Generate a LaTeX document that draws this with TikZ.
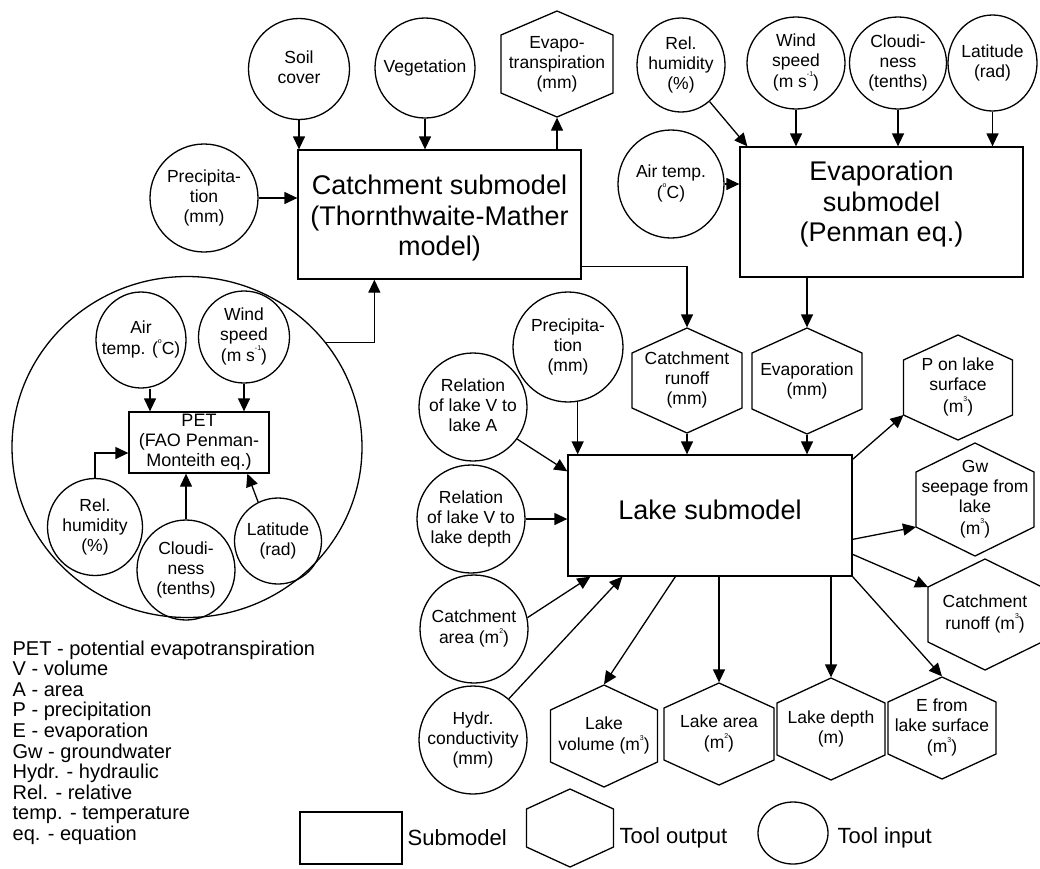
\documentclass[tikz,border=0pt]{standalone}
\usepackage{fontspec}
\setmainfont{Liberation Sans}
\usetikzlibrary{arrows.meta,shapes.geometric,calc}
\newcommand\spr[1]{\raisebox{0.62em}{\fontsize{7}{7}\selectfont #1}}
\newcommand\ctxt[1]{\makebox[0pt]{\begin{tabular}{@{}c@{}}#1\end{tabular}}}
\newcommand\hexn[7]{%
  \draw[shp] ({#2},{#3-#5}) -- ({#2-#4},{#3-#5+#6}) -- ({#2-#4},{#3+#5-#6}) -- ({#2},{#3+#5}) -- ({#2+#4},{#3+#5-#6}) -- ({#2+#4},{#3-#5+#6}) -- cycle;
  \node[outp, minimum width={2*#4}, minimum height={2*#5}] (#1) at (#2,#3) {\ctxt{#7}};
  \coordinate (#1-ul) at ({#2-#4},{#3-#5+#6});
  \coordinate (#1-ll) at ({#2-#4},{#3+#5-#6});
}
\begin{document}
\begin{tikzpicture}[x=1pt,y=-1pt,line width=1.3pt,
  shp/.style={line width=1.3pt, line join=miter},
  inp/.style={ellipse, draw, inner sep=0pt, font=\fontsize{17.5}{20}\selectfont},
  outp/.style={rectangle, draw=none, inner sep=0pt, font=\fontsize{17.5}{20}\selectfont},
  sub/.style={rectangle, draw, inner sep=0pt},
  subt/.style={inner sep=0pt, font=\fontsize{27}{30.5}\selectfont},
  pet/.style={rectangle, draw, inner sep=0pt, font=\fontsize{18}{20}\selectfont},
  arr/.style={-{Triangle[length=13pt,width=12pt]}},
  abbr/.style={anchor=base west, inner sep=0pt, font=\fontsize{20}{20}\selectfont},
  leg/.style={anchor=west, inner sep=0pt, font=\fontsize{22}{22}\selectfont}]
\useasboundingbox (0,0) rectangle (1040,868);

% enclosing circle of PET
\node[ellipse, draw, inner sep=0pt, minimum width=350, minimum height=341] (bigc) at (187,447) {};

% submodels
\node[sub, minimum width=283, minimum height=129] (catch) at (439.5,214.5) {};
\node[subt] (catchT) at (439.5,219) {\ctxt{Catchment submodel\\(Thornthwaite-Mather\\model)}};
\node[sub, minimum width=283, minimum height=130] (evap) at (881.5,212) {};
\node[subt] (evapT) at (881.5,205) {\ctxt{Evaporation\\submodel\\(Penman eq.)}};
\node[sub, minimum width=284, minimum height=121] (lake) at (710,515.5) {};
\node[subt] (lakeT) at (710,513) {\ctxt{Lake submodel}};
\node[pet, minimum width=140, minimum height=61] (pet) at (199,442.5) {\ctxt{PET\\(FAO Penman-\\Monteith eq.)}};

% inputs
\node[inp, minimum width=101, minimum height=101] (soil) at (299,69) {\ctxt{Soil\\cover}};
\node[inp, minimum width=100, minimum height=100] (veg) at (425,68) {\ctxt{Vegetation}};
\node[inp, minimum width=108, minimum height=108] (prc1) at (204,198) {\ctxt{Precipita-\\tion\\(mm)}};
\node[inp, minimum width=88, minimum height=94] (rh1) at (681,65) {\ctxt{Rel.\\humidity\\(\%)}};
\node[inp, minimum width=98, minimum height=92] (ws1) at (796,63) {\ctxt{Wind\\speed\\(m s\spr{-1})}};
\node[inp, minimum width=97, minimum height=92] (cl1) at (898,63) {\ctxt{Cloudi-\\ness\\(tenths)}};
\node[inp, minimum width=89, minimum height=96] (la1) at (992.5,63) {\ctxt{Latitude\\(rad)}};
\node[inp, minimum width=106, minimum height=108] (at1) at (671,184) {\ctxt{Air temp.\\(\spr{o}C)}};
\node[inp, minimum width=110, minimum height=110] (prc2) at (568,347) {\ctxt{Precipita-\\tion\\(mm)}};
\node[inp, minimum width=108, minimum height=108] (relA) at (473,407) {\ctxt{Relation\\of lake V to\\lake A}};
\node[inp, minimum width=108, minimum height=108] (relD) at (471,519) {\ctxt{Relation\\of lake V to\\lake depth}};
\node[inp, minimum width=108, minimum height=108] (carea) at (474,629) {\ctxt{Catchment\\area (m\spr{2})}};
\node[inp, minimum width=108, minimum height=108] (hydr) at (473,740) {\ctxt{Hydr.\\conductivity\\(mm)}};
\node[inp, minimum width=90, minimum height=96] (at2) at (141,340) {\ctxt{Air\\temp. (\spr{o}C)}};
\node[inp, minimum width=91, minimum height=92] (ws2) at (244,337) {\ctxt{Wind\\speed\\(m s\spr{-1})}};
\node[inp, minimum width=95, minimum height=97] (rh2) at (95,527) {\ctxt{Rel.\\humidity\\(\%)}};
\node[inp, minimum width=98, minimum height=100] (cl2) at (186,570) {\ctxt{Cloudi-\\ness\\(tenths)}};
\node[inp, minimum width=87, minimum height=86] (la2) at (278,541) {\ctxt{Latitude\\(rad)}};

% outputs
\hexn{et}{557}{64}{56}{53}{24}{Evapo-\\transpiration\\(mm)}
\hexn{crmm}{687}{380.5}{55}{52.5}{25}{Catchment\\runoff\\(mm)}
\hexn{evh}{807}{381}{55}{53}{25}{Evaporation\\(mm)}
\hexn{pol}{958}{387.5}{54.5}{52.5}{25}{P on lake\\surface\\(m\spr{3})}
\hexn{gw}{975}{499.5}{59}{56.5}{29}{Gw\\seepage from\\lake\\(m\spr{3})}
\hexn{crm}{985}{614.5}{57}{55.5}{28}{Catchment\\runoff (m\spr{3})}
\hexn{lvol}{604}{736}{53.5}{51}{25}{Lake\\volume (m\spr{3})}
\hexn{larea}{719}{734}{55}{51}{25}{Lake area\\(m\spr{2})}
\hexn{ldep}{831}{729}{54}{51}{25}{Lake depth\\(m)}
\hexn{efl}{942}{728}{54}{51}{25}{E from\\lake surface\\(m\spr{3})}

% connectors: catchment submodel
\draw[arr] (soil.south) -- (soil.south |- catch.north);
\draw[arr] (veg.south) -- (veg.south |- catch.north);
\draw[arr] (prc1.east) -- (prc1.east -| catch.west);
\draw[arr] (et.south |- catch.north) -- (et.south);
\coordinate (cin) at ($(catch.south west)+(77,0)$);
\draw[arr] (bigc.37) -| (cin);
\coordinate (cout) at ($(catch.south east)+(0,-13)$);
\draw[arr] (cout) -| (crmm.north);

% PET
\draw[arr] ([xshift=9pt]at2.south) -- ([xshift=9pt]at2.south |- pet.north);
\draw[arr] (ws2.south) -- (ws2.south |- pet.north);
\draw[arr] (rh2.north) |- ($(pet.west)+(0,10.5)$);
\draw[arr] (cl2.north) -- (cl2.north |- pet.south);
\coordinate (petla) at ($(pet.south west)+(119,0)$);
\draw[arr] (la2.117) -- (petla);

% evaporation submodel
\coordinate (evrh) at ($(evap.north west)+(8,0)$);
\draw[arr] (rh1.-52) -- (evrh);
\draw[arr] (ws1.south) -- (ws1.south |- evap.north);
\draw[arr] (cl1.south) -- (cl1.south |- evap.north);
\draw[arr] (la1.south) -- (la1.south |- evap.north);
\draw[arr] (at1.east) -- (at1.east -| evap.west);
\draw[arr] (evh.north |- evap.south) -- (evh.north);

% lake submodel inputs
\draw[arr] (crmm.south) -- (crmm.south |- lake.north);
\draw[arr] (evh.south) -- (evh.south |- lake.north);
\draw[arr] (prc2.280) -- (prc2.280 |- lake.north);
\coordinate (lkA) at ($(lake.north west)+(0,17)$);
\draw[arr] (relA.-36) -- (lkA);
\draw[arr] (relD.east) -- (relD.east -| lake.west);
\coordinate (lkC) at ($(lake.south west)+(23,0)$);
\draw[arr] (carea.12) -- (lkC);
\coordinate (lkH) at ($(lake.south west)+(55,0)$);
\draw[arr] (hydr.49) -- (lkH);

% lake submodel outputs
\coordinate (lkV) at ($(lake.south west)+(108,0)$);
\draw[arr] (lkV) -- (lvol.north);
\draw[arr] (larea.north |- lake.south) -- (larea.north);
\draw[arr] (ldep.north |- lake.south) -- (ldep.north);
\draw[arr] (lake.south east) -- (efl.north);
\coordinate (lkP) at ($(lake.north east)+(0,5)$);
\draw[arr] (lkP) -- (pol-ll);
\coordinate (lkG) at ($(lake.north east)+(0,85)$);
\draw[arr] (lkG) -- (gw-ll);
\coordinate (lkR) at ($(lake.north east)+(0,100)$);
\draw[arr] (lkR) -- (crm-ul);

% abbreviations
\foreach \t [count=\i] in {PET - potential evapotranspiration, V - volume, A - area, P - precipitation, E - evaporation, Gw - groundwater, Hydr. - hydraulic, Rel. - relative, temp. - temperature, eq. - equation}
  \node[abbr] (ab\i) at (12,{655+20.6*(\i-1)}) {\t};

% legend
\node[rectangle, draw, inner sep=0pt, minimum width=102, minimum height=52] (legsub) at (351,838) {};
\node[leg] (legsubt) at (407,838) {Submodel};
\hexn{leghex}{570}{828}{43.5}{39}{20}{}
\node[leg] (leghext) at (619,838) {Tool output};
\node[ellipse, draw, inner sep=0pt, minimum width=70, minimum height=62] (legin) at (793,833) {};
\node[leg] (legint) at (837,838) {Tool input};
\end{tikzpicture}
\end{document}
